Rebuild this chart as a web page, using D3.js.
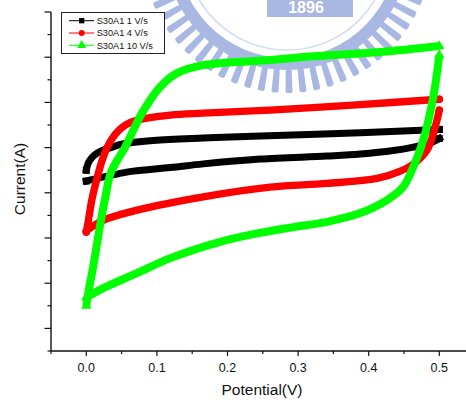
<!DOCTYPE html>
<html>
<head>
<meta charset="utf-8">
<script src="https://cdn.jsdelivr.net/npm/d3@7"></script>
<style>
  html, body { margin: 0; padding: 0; background: #fff; }
  svg { display: block; font-family: "Liberation Sans", Arial, sans-serif; }
</style>
</head>
<body>
<svg id="chart" width="466" height="402"></svg>
<script>
// Cyclic voltammetry loops of sample S30A1 at three scan rates.
// Each loop: [potential (V), current (arb. units)] for the anodic (forward) and cathodic (reverse) sweeps.
const seriesNames = ["S30A1 1 V/s", "S30A1 4 V/s", "S30A1 10 V/s"];

const s1Forward = [[0, 0.50], [0.0028, 0.66], [0.0085, 0.79], [0.0156, 0.88], [0.0241, 0.945], [0.0368, 1.01],
  [0.0482, 1.07], [0.0949, 1.155], [0.1657, 1.21], [0.2465, 1.254], [0.3881, 1.327], [0.5, 1.40]];
const s1Reverse = [[0.5, 1.20], [0.4873, 1.10], [0.4632, 1.011], [0.4348, 0.934], [0.3881, 0.856], [0.3409, 0.812],
  [0.2465, 0.746], [0.1657, 0.64], [0.119, 0.558], [0.0666, 0.48], [0.0453, 0.42], [0.0198, 0.336], [0, 0.26]];

const s4Forward = [[0, -0.87], [0.0028, -0.63], [0.0078, -0.16], [0.0142, 0.26], [0.0212, 0.657], [0.0297, 1.011],
  [0.0411, 1.30], [0.0552, 1.498], [0.0722, 1.608], [0.119, 1.719], [0.1657, 1.763], [0.2606, 1.83],
  [0.3881, 1.951], [0.5, 2.07]];
const s4Reverse = [[0.5, 1.83], [0.4943, 1.46], [0.4826, 0.945], [0.4632, 0.635], [0.4448, 0.48], [0.4118, 0.319],
  [0.3409, 0.208], [0.2606, 0.126], [0.1657, -0.088], [0.0718, -0.383], [0.0245, -0.604], [0.0057, -0.78],
  [0, -0.85]];

const s10Forward = [[0, -2.50], [0.0042, -2.086], [0.0089, -1.71], [0.0149, -1.157], [0.0208, -0.604],
  [0.0276, -0.051], [0.035, 0.458], [0.0552, 1.018], [0.0789, 1.763], [0.1048, 2.345],
  [0.1285, 2.648], [0.1657, 2.825], [0.2606, 2.936], [0.3031, 3.0], [0.4164, 3.113], [0.5, 3.246]];
const s10Reverse = [[0.5, 3.046], [0.4915, 2.124], [0.4773, 1.166], [0.4632, 0.575], [0.449, 0.133],
  [0.4259, -0.162], [0.3881, -0.449], [0.3409, -0.642], [0.2932, -0.759], [0.2465, -0.885], [0.1898, -1.084],
  [0.119, -1.445], [0.0718, -1.777], [0.0241, -2.108], [0.0057, -2.263], [0, -2.31]];

// Axis ticks
const xMajorTicks = [0, 0.1, 0.2, 0.3, 0.4, 0.5];
const xMinorTicks = [-0.05, 0.05, 0.15, 0.25, 0.35, 0.45, 0.55];
const yMajorTicks = [-3, -2, -1, 0, 1, 2, 3, 4];
const yMinorTicks = [-3.5, -2.5, -1.5, -0.5, 0.5, 1.5, 2.5, 3.5];

const svg = d3.select("#chart");

// Plot frame
const plotLeft = 51, plotBottom = 351, plotTop = 12;
const x = d3.scaleLinear().domain([-0.05, 0.55]).range([plotLeft, plotLeft + 423.6]);
const y = d3.scaleLinear().domain([-3.5, 4]).range([plotBottom, plotTop]);

// Faint institutional seal in the background
const seal = svg.append("g").attr("opacity", 0.68);
const sealCx = 287, sealCy = -52, rIn = 110, rBand = 122, rOut = 145;
const sealColor = "#7f97d6";
const ring = d3.arc().startAngle(0).endAngle(2 * Math.PI);
seal.append("path")
  .attr("transform", `translate(${sealCx},${sealCy})`)
  .attr("d", ring.innerRadius(rIn).outerRadius(rBand)())
  .attr("fill", sealColor);
d3.range(0, 360, 5.6).forEach(a => {
  seal.append("path")
    .attr("transform", `translate(${sealCx},${sealCy})`)
    .attr("d", d3.arc().innerRadius(rBand - 1).outerRadius(rOut).cornerRadius(2)
      .startAngle((a - 1.4) * Math.PI / 180).endAngle((a + 1.4) * Math.PI / 180)())
    .attr("fill", sealColor);
});
seal.append("circle").attr("cx", sealCx).attr("cy", sealCy).attr("r", rIn - 8)
  .attr("fill", "none").attr("stroke", sealColor).attr("stroke-opacity", 0.5).attr("stroke-width", 1.5);
seal.append("rect").attr("x", 267).attr("y", -4).attr("width", 86).attr("height", 21).attr("fill", sealColor);
seal.append("text").attr("x", 306).attr("y", 13).attr("text-anchor", "middle")
  .attr("font-size", 16).attr("font-weight", "bold").attr("fill", "#fff").text("1896");

// Axes
const axisColor = "#111";
const gx = svg.append("g").attr("transform", `translate(0,${plotBottom})`);
gx.append("line").attr("x1", plotLeft).attr("x2", 466).attr("stroke", axisColor).attr("stroke-width", 1.4);
gx.selectAll(".maj").data(xMajorTicks).join("line").attr("class", "maj")
  .attr("x1", d => x(d)).attr("x2", d => x(d)).attr("y1", 0).attr("y2", 5)
  .attr("stroke", axisColor).attr("stroke-width", 1.2);
gx.selectAll(".min").data(xMinorTicks).join("line").attr("class", "min")
  .attr("x1", d => x(d)).attr("x2", d => x(d)).attr("y1", 0).attr("y2", 3)
  .attr("stroke", axisColor).attr("stroke-width", 1.2);
gx.selectAll("text").data(xMajorTicks).join("text")
  .attr("x", d => x(d)).attr("y", 21).attr("text-anchor", "middle")
  .attr("font-size", 12.5).attr("fill", "#111").text(d3.format(".1f"));

const gy = svg.append("g").attr("transform", `translate(${plotLeft},0)`);
gy.append("line").attr("y1", plotTop).attr("y2", plotBottom).attr("stroke", axisColor).attr("stroke-width", 1.4);
gy.selectAll(".maj").data(yMajorTicks).join("line").attr("class", "maj")
  .attr("y1", d => y(d)).attr("y2", d => y(d)).attr("x1", 0).attr("x2", -6.5)
  .attr("stroke", axisColor).attr("stroke-width", 1.2);
gy.selectAll(".min").data(yMinorTicks).join("line").attr("class", "min")
  .attr("y1", d => y(d)).attr("y2", d => y(d)).attr("x1", 0).attr("x2", -3.5)
  .attr("stroke", axisColor).attr("stroke-width", 1.2);

// Axis titles
svg.append("text").attr("x", 262).attr("y", 395).attr("text-anchor", "middle")
  .attr("font-size", 15.5).attr("fill", "#111").text("Potential(V)");
svg.append("text").attr("transform", "translate(25,179) rotate(-90)").attr("text-anchor", "middle")
  .attr("font-size", 15.5).attr("fill", "#111").text("Current(A)");

// CV loops: thick sweep traces, with the scatter symbol at each end of a sweep
const line = d3.line().x(d => x(d[0])).y(d => y(d[1])).curve(d3.curveCatmullRom.alpha(0.5));
const series = [
  { name: seriesNames[0], color: "#000", width: 7, branches: [s1Forward, s1Reverse], symbol: d3.symbolSquare, size: 49, cap: "square" },
  { name: seriesNames[1], color: "#ff0000", width: 7.4, branches: [s4Forward, s4Reverse], symbol: d3.symbolCircle, size: 43, cap: "round" },
  { name: seriesNames[2], color: "#00ff00", width: 8, branches: [s10Forward, s10Reverse], symbol: d3.symbolTriangle, size: 46, cap: "butt" }
];

series.forEach(s => {
  const g = svg.append("g");
  s.branches.forEach(b => {
    g.append("path").attr("d", line(b)).attr("fill", "none")
      .attr("stroke", s.color).attr("stroke-width", s.width)
      .attr("stroke-linecap", s.cap).attr("stroke-linejoin", "round");
    g.selectAll(null).data([b[0], b[b.length - 1]]).join("path")
      .attr("transform", d => `translate(${x(d[0])},${y(d[1])})`)
      .attr("d", d3.symbol().type(s.symbol).size(s.size))
      .attr("fill", s.color);
  });
});

// Legend
const lg = svg.append("g");
lg.append("rect").attr("x", 61.5).attr("y", 12.5).attr("width", 103).attr("height", 41)
  .attr("fill", "#fff").attr("stroke", "#222").attr("stroke-width", 1);
const legendSym = [28, 28, 36];
series.forEach((s, i) => {
  const ly = 20.7 + i * 12.3;
  lg.append("line").attr("x1", 69).attr("x2", 94).attr("y1", ly).attr("y2", ly)
    .attr("stroke", s.color).attr("stroke-width", 1);
  lg.append("path").attr("transform", `translate(81.7,${ly})`)
    .attr("d", d3.symbol().type(s.symbol).size(legendSym[i])).attr("fill", s.color);
  lg.append("text").attr("x", 96.7).attr("y", ly + 3.4).attr("font-size", 9.2).attr("fill", "#111").text(s.name);
});
</script>
</body>
</html>
